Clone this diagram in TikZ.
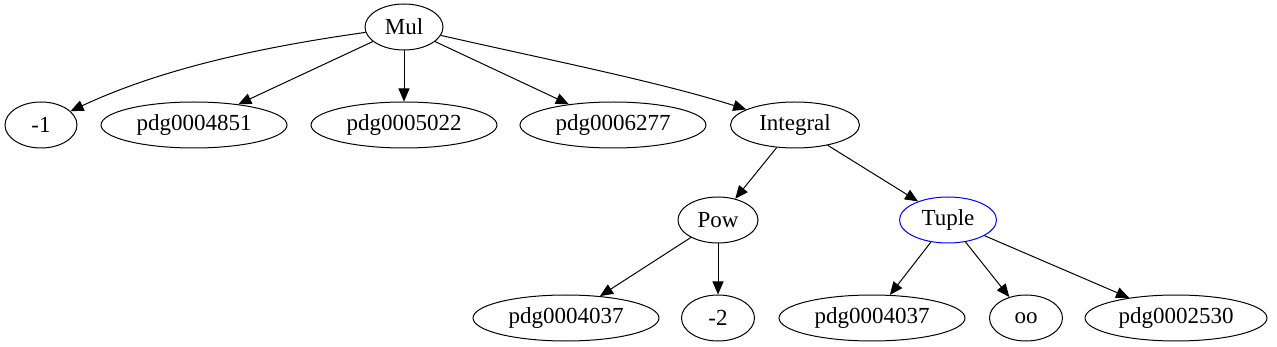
\documentclass[tikz,border=0pt]{standalone}
\usepackage{fontspec}
\setmainfont{Liberation Serif}
\usetikzlibrary{shapes.geometric,arrows.meta}
\begin{document}
\begin{tikzpicture}[x=1pt,y=-1pt,
  gnode/.style={ellipse,draw,line width=1pt,inner sep=0pt,minimum height=46pt,font=\fontsize{23}{27}\selectfont},
  wide/.style={gnode,minimum width=186pt},
  edge/.style={draw,line width=1pt,-{Triangle[length=13pt,width=11pt]}}]
\useasboundingbox (0,0) rectangle (1277,347);
\node[gnode,minimum width=78pt] (mul) at (404,27) {Mul};
\node[gnode,minimum width=72pt] (m1) at (41,125) {-1};
\node[wide] (p4851) at (194,125) {pdg0004851};
\node[wide] (p5022) at (404,125) {pdg0005022};
\node[wide] (p6277) at (613,125) {pdg0006277};
\node[gnode,minimum width=129pt] (int) at (795,125) {Integral};
\node[gnode,minimum width=80pt] (pow) at (718,220) {Pow};
\node[gnode,minimum width=97pt,draw=blue] (tup) at (948,220) {Tuple};
\node[wide] (p4037a) at (566,318) {pdg0004037};
\node[gnode,minimum width=73pt] (m2) at (718,318) {-2};
\node[wide] (p4037b) at (872,318) {pdg0004037};
\node[gnode,minimum width=73pt] (oo) at (1026,318) {oo};
\node[wide,minimum width=182pt] (p2530) at (1176,318) {pdg0002530};
\draw[edge] (mul) .. controls (240,50) and (150,74) .. (m1);
\draw[edge] (mul) -- (p4851);
\draw[edge] (mul) -- (p5022);
\draw[edge] (mul) -- (p6277);
\draw[edge] (mul) .. controls (540,58) and (660,82) .. (int);
\draw[edge] (int) -- (pow);
\draw[edge] (int) -- (tup);
\draw[edge] (pow) -- (p4037a);
\draw[edge] (pow) -- (m2);
\draw[edge] (tup) -- (p4037b);
\draw[edge] (tup) -- (oo);
\draw[edge] (tup) -- (p2530);
\end{tikzpicture}
\end{document}
